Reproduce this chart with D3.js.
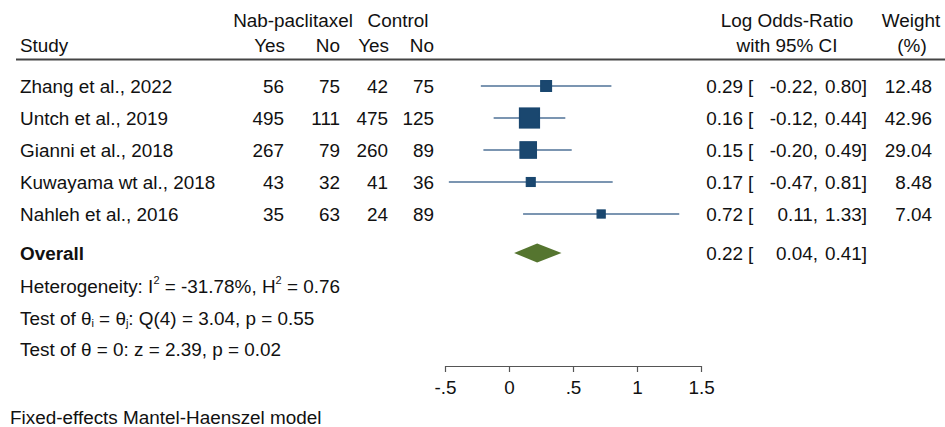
<!DOCTYPE html>
<html>
<head>
<meta charset="utf-8">
<script src="https://cdn.jsdelivr.net/npm/d3@7"></script>
<style>
  body { margin: 0; background: #fff; }
  svg text { font-family: "Liberation Sans", Arial, sans-serif; font-size: 18.9px; fill: #111; }
</style>
</head>
<body>
<svg id="chart" width="945" height="427"></svg>
<script>
// data
const studies = ["Zhang et al., 2022", "Untch et al., 2019", "Gianni et al., 2018", "Kuwayama wt al., 2018", "Nahleh et al., 2016"];
const nabYes = [56, 495, 267, 43, 35];
const nabNo = [75, 111, 79, 32, 63];
const ctrlYes = [42, 475, 260, 41, 24];
const ctrlNo = [75, 125, 89, 36, 89];
const logOR = [0.29, 0.16, 0.15, 0.17, 0.72];
const ciLow = [-0.22, -0.12, -0.20, -0.47, 0.11];
const ciHigh = [0.80, 0.44, 0.49, 0.81, 1.33];
const weights = [12.48, 42.96, 29.04, 8.48, 7.04];
const overall = { est: 0.22, lo: 0.04, hi: 0.41 };
const axisTicks = [-0.5, 0, 0.5, 1, 1.5];

const svg = d3.select('#chart');
const navy = '#1a476f';
const ciColor = '#4f7297';
const green = '#55752f';

const x = d3.scaleLinear().domain([-0.5, 1.5]).range([445, 701]);
const rowY = d3.scalePoint().domain(d3.range(studies.length)).range([86, 214]);
const side = d3.scaleSqrt().domain([0, 42.96]).range([0, 20]);
const f2 = v => v.toFixed(2);

// header
const txt = (xx, yy, s, anchor) => svg.append('text')
	.attr('x', xx).attr('y', yy).attr('text-anchor', anchor || 'start').text(s);

txt(293, 27, 'Nab-paclitaxel', 'middle');
txt(398, 27, 'Control', 'middle');
txt(20, 52, 'Study');
txt(285, 52, 'Yes', 'end');
txt(340, 52, 'No', 'end');
txt(389, 52, 'Yes', 'end');
txt(434, 52, 'No', 'end');
txt(787, 27, 'Log Odds-Ratio', 'middle');
txt(787, 52, 'with 95% CI', 'middle');
txt(911, 27, 'Weight', 'middle');
txt(912, 52, '(%)', 'middle');

svg.append('line')
	.attr('x1', 16).attr('x2', 945)
	.attr('y1', 59.5).attr('y2', 59.5)
	.attr('stroke', '#444').attr('stroke-width', 2);

// rows
const rows = svg.append('g').attr('class', 'rows')
	.selectAll('g')
	.data(studies)
	.join('g')
	.attr('transform', (d, i) => `translate(0,${rowY(i)})`);

rows.append('text').attr('x', 20).attr('y', 7).text(d => d);
rows.append('text').attr('x', 284).attr('y', 7).attr('text-anchor', 'end').text((d, i) => nabYes[i]);
rows.append('text').attr('x', 340).attr('y', 7).attr('text-anchor', 'end').text((d, i) => nabNo[i]);
rows.append('text').attr('x', 388).attr('y', 7).attr('text-anchor', 'end').text((d, i) => ctrlYes[i]);
rows.append('text').attr('x', 434).attr('y', 7).attr('text-anchor', 'end').text((d, i) => ctrlNo[i]);

rows.append('line')
	.attr('x1', (d, i) => x(ciLow[i]))
	.attr('x2', (d, i) => x(ciHigh[i]))
	.attr('stroke', ciColor).attr('stroke-width', 1.5);

rows.append('rect')
	.attr('x', (d, i) => x(logOR[i]) - side(weights[i]) / 2)
	.attr('y', (d, i) => -side(weights[i]) / 2)
	.attr('width', (d, i) => side(weights[i]))
	.attr('height', (d, i) => side(weights[i]))
	.attr('fill', navy)
	.attr('stroke', navy).attr('stroke-width', 1.2);

const ciText = (g, est, lo, hi) => {
	g.append('text').attr('x', 743).attr('y', 7).attr('text-anchor', 'end').text(f2(est));
	g.append('text').attr('x', 748).attr('y', 7).text('[');
	g.append('text').attr('x', 818).attr('y', 7).attr('text-anchor', 'end').text(f2(lo) + ',');
	g.append('text').attr('x', 867).attr('y', 7).attr('text-anchor', 'end').text(f2(hi) + ']');
};

rows.each(function (d, i) {
	const g = d3.select(this);
	ciText(g, logOR[i], ciLow[i], ciHigh[i]);
	g.append('text').attr('x', 932).attr('y', 7).attr('text-anchor', 'end').text(f2(weights[i]));
});

// overall
const ov = svg.append('g').attr('transform', 'translate(0,253)');
ov.append('text').attr('x', 20).attr('y', 7).attr('font-weight', 'bold').text('Overall');
ov.append('path')
	.attr('d', `M${x(overall.lo)},0 L${x(overall.est)},-9.5 L${x(overall.hi)},0 L${x(overall.est)},9.5 Z`)
	.attr('fill', green);
ciText(ov, overall.est, overall.lo, overall.hi);

// heterogeneity stats
const het = svg.append('text').attr('x', 20).attr('y', 293);
het.append('tspan').text('Heterogeneity: I');
het.append('tspan').attr('font-size', 11).attr('dy', -9).text('2');
het.append('tspan').attr('dy', 9).text(' = -31.78%, H');
het.append('tspan').attr('font-size', 11).attr('dy', -9).text('2');
het.append('tspan').attr('dy', 9).text(' = 0.76');

const q = svg.append('text').attr('x', 20).attr('y', 325);
q.append('tspan').text('Test of θ');
q.append('tspan').attr('font-size', 11).attr('dy', 2).text('i');
q.append('tspan').attr('dy', -2).text(' = θ');
q.append('tspan').attr('font-size', 11).attr('dy', 2).text('j');
q.append('tspan').attr('dy', -2).text(': Q(4) = 3.04, p = 0.55');

txt(20, 356, 'Test of θ = 0: z = 2.39, p = 0.02');
txt(10, 424, 'Fixed-effects Mantel-Haenszel model');

// x axis
const axis = d3.axisBottom(x)
	.tickValues(axisTicks)
	.tickSize(6)
	.tickSizeOuter(0)
	.tickPadding(8.5)
	.tickFormat(d => d === 0 ? '0' : String(d).replace(/^(-?)0\./, '$1.'));

const ax = svg.append('g')
	.attr('transform', 'translate(0,366)')
	.call(axis);
ax.select('.domain').attr('stroke', '#555').attr('stroke-width', 1.2);
ax.selectAll('.tick line').attr('stroke', '#555').attr('stroke-width', 1.2);
ax.selectAll('.tick text')
	.attr('font-family', '"Liberation Sans", Arial, sans-serif')
	.attr('font-size', 18.9).attr('fill', '#111');
</script>
</body>
</html>
